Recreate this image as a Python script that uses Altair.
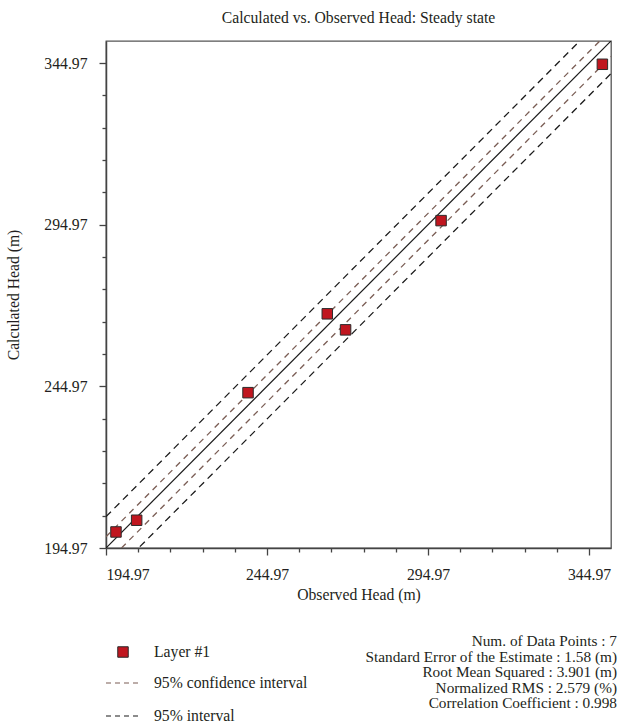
import altair as alt
import pandas as pd

# ---------------- data ----------------
observed = [198.07, 204.49, 239.08, 263.69, 269.37, 299.03, 349.12]
calculated = [199.93, 203.56, 243.02, 267.41, 262.45, 296.24, 344.60]

axis_min = 194.97
axis_max = 351.8
tick_step = 10
major_step = 50

line_names = ["1:1", "conf_upper", "conf_lower", "int_upper", "int_lower"]
line_offsets = [0.0, 3.5, -4.8, 9.7, -10.1]
line_kind = ["identity", "confidence", "confidence", "interval", "interval"]

legend_labels = ["Layer #1", "95% confidence interval", "95% interval"]
stats_lines = [
    "Num. of Data Points : 7",
    "Standard Error of the Estimate : 1.58 (m)",
    "Root Mean Squared : 3.901 (m)",
    "Normalized RMS : 2.579 (%)",
    "Correlation Coefficient : 0.998",
]
title_text = "Calculated vs. Observed Head: Steady state"
x_title = "Observed Head (m)"
y_title = "Calculated Head (m)"

# ---------------- styling ----------------
FONT = "Liberation Serif"
TXT = "#231f20"
FS = 15.7
FS_STATS = 15.3
W, H = 505, 507
PAD = {"left": 106, "top": 41, "right": 10, "bottom": 175}
MARK_FILL = "#c0161f"
MARK_STROKE = "#2b2b2b"
CONF_COLOR = "#7a5d54"
INT_COLOR = "#1a1a1a"

tick_vals = []
v = axis_min
while v <= axis_max - 1:
    tick_vals.append(round(v, 2))
    v += tick_step

major_test = (
    f"abs((datum.value - {axis_min})/{major_step} - "
    f"round((datum.value - {axis_min})/{major_step})) < 0.001"
)
label_expr = f"{major_test} ? format(datum.value, '.2f') : ''"
tick_size = {"condition": {"test": major_test, "value": 7}, "value": 4}

scale = alt.Scale(domain=[axis_min, axis_max], nice=False, zero=False)


def make_axis(title, pad_title):
    return alt.Axis(
        values=tick_vals,
        labelExpr=label_expr,
        tickSize=tick_size,
        title=title,
        titlePadding=pad_title,
        grid=False,
    )


x_enc = alt.X("x:Q", scale=scale, axis=make_axis(x_title, 6))
y_enc = alt.Y("y:Q", scale=scale, axis=make_axis(y_title, 22))

# lines
rows = []
for name, off, kind in zip(line_names, line_offsets, line_kind):
    rows.append({"name": name, "kind": kind, "x": axis_min, "y": axis_min + off})
    rows.append({"name": name, "kind": kind, "x": axis_max, "y": axis_max + off})
lines_df = pd.DataFrame(rows)

identity = (
    alt.Chart(lines_df[lines_df.kind == "identity"])
    .mark_line(clip=True, color="#1a1a1a", strokeWidth=1.2)
    .encode(x=x_enc, y=y_enc, detail="name:N")
)
conf = (
    alt.Chart(lines_df[lines_df.kind == "confidence"])
    .mark_line(clip=True, color=CONF_COLOR, strokeWidth=1.3, strokeDash=[6, 5])
    .encode(x=x_enc, y=y_enc, detail="name:N")
)
interval = (
    alt.Chart(lines_df[lines_df.kind == "interval"])
    .mark_line(clip=True, color=INT_COLOR, strokeWidth=1.3, strokeDash=[7, 5])
    .encode(x=x_enc, y=y_enc, detail="name:N")
)

pts_df = pd.DataFrame({"x": observed, "y": calculated})
points = (
    alt.Chart(pts_df)
    .mark_square(size=110, fill=MARK_FILL, stroke=MARK_STROKE, strokeWidth=1, opacity=1)
    .encode(x=x_enc, y=y_enc)
)

one = pd.DataFrame({"a": [0]})

layers = [interval, conf, identity, points]

# title
layers.append(
    alt.Chart(one)
    .mark_text(font=FONT, fontSize=FS, color=TXT, align="center", baseline="middle")
    .encode(x=alt.value(W / 2), y=alt.value(-23), text=alt.value(title_text))
)

# legend
leg_y = [611, 642, 675]
layers.append(
    alt.Chart(one)
    .mark_square(size=110, fill=MARK_FILL, stroke=MARK_STROKE, strokeWidth=1, opacity=1)
    .encode(x=alt.value(17), y=alt.value(leg_y[0]))
)
layers.append(
    alt.Chart(one)
    .mark_rule(color=CONF_COLOR, strokeWidth=1.2, strokeDash=[5, 4])
    .encode(x=alt.value(0), x2=alt.value(34), y=alt.value(leg_y[1]))
)
layers.append(
    alt.Chart(one)
    .mark_rule(color=INT_COLOR, strokeWidth=1.2, strokeDash=[5, 4])
    .encode(x=alt.value(0), x2=alt.value(34), y=alt.value(leg_y[2]))
)
for lab, yy in zip(legend_labels, leg_y):
    layers.append(
        alt.Chart(one)
        .mark_text(font=FONT, fontSize=FS, color=TXT, align="left", baseline="middle")
        .encode(x=alt.value(48), y=alt.value(yy), text=alt.value(lab))
    )

# stats
stats_y = [600, 615.5, 631, 646.5, 662]
for s, yy in zip(stats_lines, stats_y):
    layers.append(
        alt.Chart(one)
        .mark_text(font=FONT, fontSize=FS_STATS, color=TXT, align="right", baseline="middle")
        .encode(x=alt.value(511), y=alt.value(yy), text=alt.value(s))
    )

chart = (
    alt.layer(*layers)
    .properties(
        width=W,
        height=H,
        autosize=alt.AutoSizeParams(type="none"),
        padding=PAD,
        background="white",
    )
    .configure_view(stroke="#555555", strokeWidth=1.3)
    .configure_axis(
        labelFont=FONT,
        titleFont=FONT,
        labelFontSize=FS,
        titleFontSize=FS,
        labelColor=TXT,
        titleColor=TXT,
        titleFontWeight="normal",
        domainColor="#444444",
        domainWidth=1.5,
        tickColor="#444444",
        tickWidth=1.3,
        labelPadding=12,
    )
)

chart.save("out.html", embed_options={"renderer": "svg", "actions": False})
